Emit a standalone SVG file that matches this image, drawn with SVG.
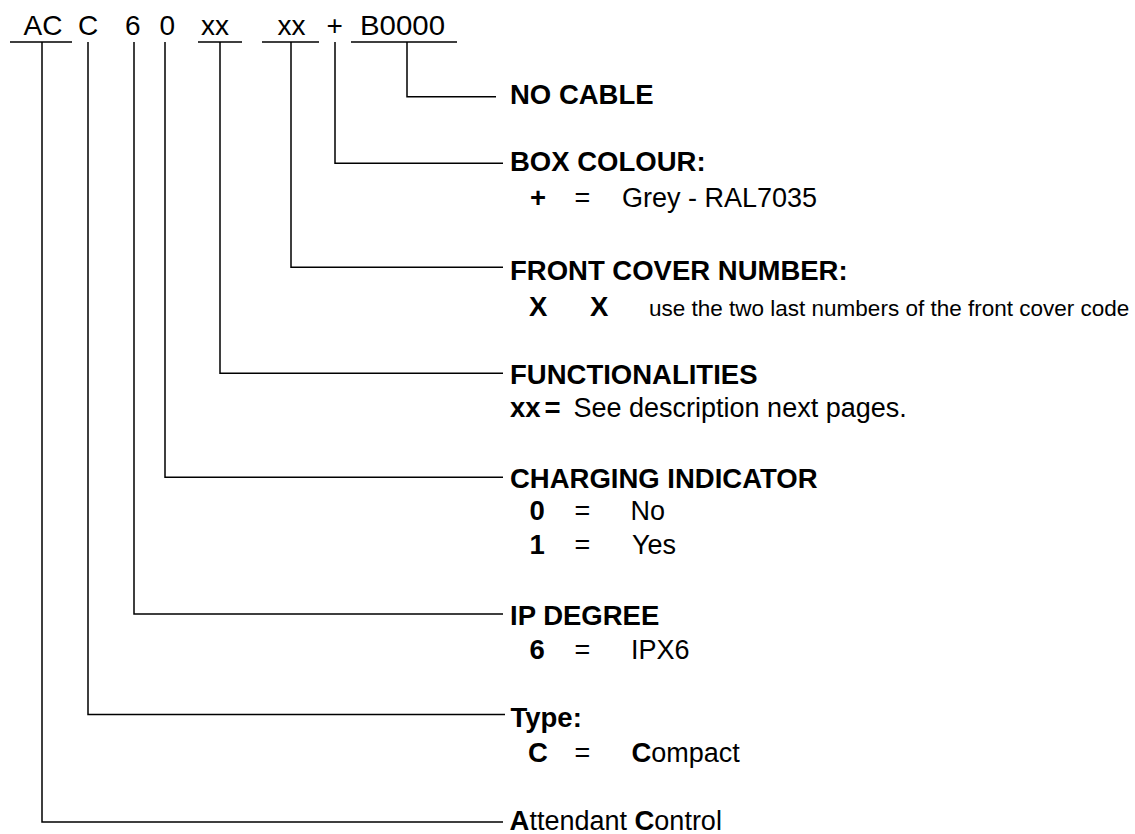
<svg xmlns="http://www.w3.org/2000/svg" width="1135" height="834" viewBox="0 0 1135 834">
<style>
text{font-family:"Liberation Sans",Arial,sans-serif;font-size:27px;fill:#000}
.b{font-weight:bold;font-size:27.5px}
.t{font-size:28px}
.s{font-size:22.5px}
.ln{fill:none;stroke:#000;stroke-width:1.5}
</style>
<rect width="1135" height="834" fill="#fff"/>
<g id="code">
<text class="t" x="23.5" y="35">AC</text>
<text class="t" x="78" y="35">C</text>
<text class="t" x="125" y="35">6</text>
<text class="t" x="159.5" y="35">0</text>
<text class="t" x="201" y="35">xx</text>
<text class="t" x="277.5" y="35">xx</text>
<text class="t" x="326.5" y="35">+</text>
<text class="t" x="360" y="35" textLength="85" lengthAdjust="spacingAndGlyphs">B0000</text>
<path class="ln" d="M10 42H72M198 42H242M262 42H319M351 42H457"/>
</g>
<g id="connectors">
<path class="ln" d="M407 42V96.7H496"/>
<path class="ln" d="M335 42V163.3H503"/>
<path class="ln" d="M291 42V267.3H503"/>
<path class="ln" d="M220 42V373.3H503"/>
<path class="ln" d="M165 42V477.3H503"/>
<path class="ln" d="M134 42V614H503"/>
<path class="ln" d="M88 42V714.5H505"/>
<path class="ln" d="M42 42V822H503"/>
</g>
<g id="no-cable"><text class="b" x="510" y="103.5">NO CABLE</text></g>
<g id="box-colour">
<text class="b" x="510" y="171">BOX COLOUR:</text>
<text class="b" x="530" y="207">+</text>
<text x="574.5" y="207">=</text>
<text x="622" y="207">Grey - RAL7035</text>
</g>
<g id="front-cover">
<text class="b" x="510" y="279.5">FRONT COVER NUMBER:</text>
<text class="b" x="529" y="316">X</text>
<text class="b" x="590" y="316">X</text>
<text class="s" x="649" y="316">use the two last numbers of the front cover code</text>
</g>
<g id="functionalities">
<text class="b" x="510" y="383.5">FUNCTIONALITIES</text>
<text class="b" x="510" y="417">xx</text>
<text class="b" x="544.5" y="417">=</text>
<text x="573.5" y="417">See description next pages.</text>
</g>
<g id="charging">
<text class="b" x="510" y="487.5">CHARGING INDICATOR</text>
<text class="b" x="529.5" y="519.5">0</text>
<text x="574.5" y="519.5">=</text>
<text x="630.5" y="519.5">No</text>
<text class="b" x="529.5" y="554">1</text>
<text x="574.5" y="554">=</text>
<text x="632" y="554">Yes</text>
</g>
<g id="ip-degree">
<text class="b" x="510" y="624.5">IP DEGREE</text>
<text class="b" x="529.5" y="659">6</text>
<text x="574.5" y="659">=</text>
<text x="631" y="659">IPX6</text>
</g>
<g id="type">
<text class="b" x="510.5" y="727.3">Type:</text>
<text class="b" x="528" y="761.7">C</text>
<text x="574.5" y="761.7">=</text>
<text x="631.4" y="761.7"><tspan class="b">C</tspan>ompact</text>
</g>
<g id="attendant">
<text x="509.5" y="830"><tspan class="b">A</tspan>ttendant <tspan class="b">C</tspan>ontrol</text>
</g>
</svg>
